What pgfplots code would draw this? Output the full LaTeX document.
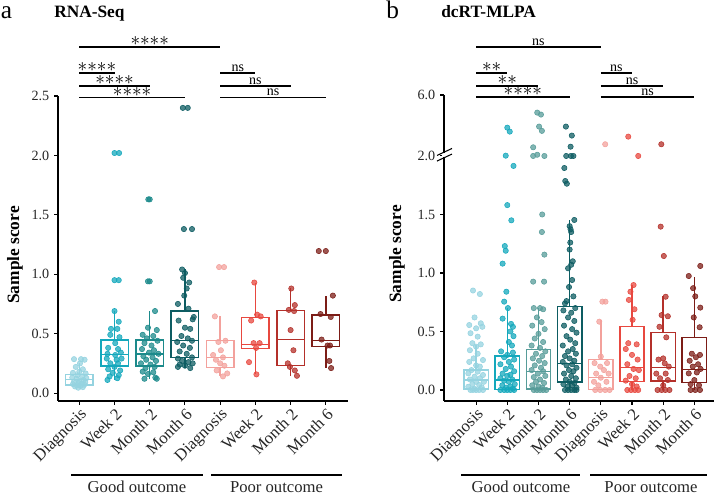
\documentclass[border=0pt]{standalone}
\usepackage{fontspec}
\setmainfont{Liberation Serif}
\usepackage{pgfplots}
\usepackage{pgfplotstable}
\usepgfplotslibrary{statistics}
\pgfplotsset{compat=1.18}

\definecolor{gA}{HTML}{95D3E0}
\definecolor{gB}{HTML}{14A8BC}
\definecolor{gC}{HTML}{1C8A8B}
\definecolor{gCr}{HTML}{579C99}
\definecolor{gD}{HTML}{0D5C62}
\definecolor{pA}{HTML}{F3A19C}
\definecolor{pB}{HTML}{E8483F}
\definecolor{pC}{HTML}{B4302A}
\definecolor{pD}{HTML}{7C1D17}

\pgfplotsset{
 pts/.style={only marks, mark=*, mark size=2pt, color=#1, mark options={fill=#1, draw=none, fill opacity=0.75}},
 bx/.style={draw=#1, line width=1.1pt, solid, mark=none, boxplot/draw direction=y},
 myaxis/.style={
  scale only axis, anchor=south west, clip=false,
  axis x line*=bottom, axis y line*=left,
  axis line style={line width=1.1pt, black},
  tick align=outside, major tick length=3pt,
  every tick/.style={black, line width=0.8pt},
  xtick={0,...,7},
  xticklabels={Diagnosis,Week 2,Month 2,Month 6,Diagnosis,Week 2,Month 2,Month 6},
  xticklabel style={rotate=45, anchor=north east, font=\fontsize{12.5}{14}\selectfont, text=black!85, inner sep=1pt},
  yticklabel style={font=\fontsize{10.6}{12}\selectfont, text=black!85},
 },
}
\tikzset{
 sigast/.style={font=\fontsize{14}{14}\selectfont, inner sep=0pt, anchor=south, yshift=0.3pt},
 signs/.style={font=\fontsize{10.5}{11}\selectfont, inner sep=0pt, anchor=south, yshift=0.6pt},
}
\newcommand{\four}{${\ast}{\ast}{\ast}{\ast}$}
\newcommand{\two}{${\ast}{\ast}$}

% ---------------- RNA-Seq (left) ----------------
\pgfplotstableread[row sep=\\]{dx v\\
-0.15 0.285\\ 0.05 0.285\\ 0.15 0.28\\ 0.02 0.25\\ -0.10 0.22\\ 0.10 0.20\\ 0.00 0.18\\ -0.18 0.17\\ 0.18 0.165\\ -0.05 0.15\\ 0.08 0.14\\ -0.20 0.13\\ 0.20 0.125\\ -0.08 0.12\\ 0.12 0.11\\ 0.00 0.10\\ -0.15 0.095\\ 0.17 0.09\\ -0.02 0.085\\ 0.07 0.08\\ -0.18 0.075\\ 0.14 0.07\\ -0.07 0.065\\ 0.03 0.06\\ -0.12 0.055\\ 0.10 0.05\\ -0.03 0.045\\
}\LgA
\pgfplotstableread[row sep=\\]{dx v\\
0 2.02\\ 0.13 2.02\\ 0 0.95\\ 0.12 0.95\\ 0.0 0.69\\ 0.12 0.60\\ -0.10 0.54\\ 0.08 0.54\\ -0.12 0.49\\ 0.14 0.47\\ 0.02 0.42\\ -0.18 0.38\\ 0.10 0.37\\ -0.20 0.33\\ 0.02 0.32\\ 0.18 0.34\\ -0.22 0.29\\ 0.06 0.28\\ 0.20 0.29\\ -0.12 0.25\\ 0.10 0.25\\ 0.0 0.22\\ -0.18 0.20\\ 0.16 0.19\\ -0.05 0.17\\ 0.12 0.15\\ -0.14 0.14\\ -0.20 0.11\\ 0.08 0.125\\
}\LgB
\pgfplotstableread[row sep=\\]{dx v\\
0 1.63\\ -0.04 1.63\\ 0 0.94\\ -0.05 0.94\\ 0.15 0.69\\ -0.05 0.55\\ 0.20 0.53\\ -0.20 0.49\\ 0.10 0.48\\ -0.08 0.46\\ 0.22 0.44\\ -0.15 0.42\\ 0.05 0.40\\ -0.22 0.37\\ 0.12 0.36\\ -0.02 0.34\\ 0.25 0.33\\ -0.18 0.31\\ 0.08 0.30\\ -0.10 0.28\\ 0.18 0.27\\ -0.25 0.25\\ 0.02 0.24\\ 0.14 0.22\\ -0.12 0.21\\ -0.20 0.18\\ 0.10 0.175\\ -0.05 0.16\\ 0.16 0.13\\ -0.15 0.12\\ 0.20 0.12\\
}\LgC
\pgfplotstableread[row sep=\\]{dx v\\
-0.06 2.40\\ 0.08 2.40\\ -0.03 1.38\\ 0.20 1.38\\ -0.08 1.04\\ 0.0 1.01\\ -0.05 0.97\\ 0.12 0.93\\ 0.05 0.88\\ -0.02 0.82\\ -0.20 0.75\\ 0.10 0.71\\ 0.25 0.64\\ -0.18 0.61\\ 0.22 0.62\\ 0.0 0.55\\ 0.15 0.54\\ -0.10 0.48\\ 0.08 0.46\\ -0.22 0.43\\ 0.20 0.44\\ -0.05 0.40\\ 0.14 0.38\\ -0.15 0.35\\ 0.05 0.33\\ 0.20 0.30\\ -0.20 0.29\\ -0.08 0.27\\ 0.10 0.26\\ 0.22 0.25\\ -0.15 0.24\\ 0.0 0.23\\ -0.20 0.22\\ 0.15 0.21\\
}\LgD
\pgfplotstableread[row sep=\\]{dx v\\
-0.03 1.06\\ 0.11 1.06\\ -0.15 0.645\\ 0.15 0.44\\ -0.05 0.43\\ 0.02 0.36\\ -0.20 0.32\\ 0.08 0.30\\ -0.12 0.28\\ 0.0 0.25\\ 0.12 0.23\\ -0.10 0.19\\ 0.20 0.165\\ 0.08 0.14\\
}\LpA
\pgfplotstableread[row sep=\\]{dx v\\
-0.03 0.93\\ 0.05 0.66\\ 0.15 0.645\\ -0.12 0.61\\ -0.05 0.42\\ 0.12 0.42\\ 0.02 0.38\\ -0.18 0.26\\ 0.03 0.157\\
}\LpB
\pgfplotstableread[row sep=\\]{dx v\\
0.02 0.88\\ 0.12 0.74\\ -0.05 0.70\\ 0.10 0.69\\ 0.0 0.53\\ 0.08 0.36\\ -0.08 0.25\\ -0.02 0.22\\ 0.12 0.19\\ 0.18 0.145\\
}\LpC
\pgfplotstableread[row sep=\\]{dx v\\
-0.20 1.195\\ 0 1.195\\ 0.20 0.82\\ -0.15 0.665\\ 0.14 0.64\\ -0.12 0.45\\ 0.05 0.40\\ 0.12 0.40\\ 0.10 0.27\\ 0.15 0.21\\
}\LpD

% ---------------- dcRT-MLPA (right) ----------------
\pgfplotstableread[row sep=\\]{dx v\\
-0.10 0.85\\ 0.12 0.82\\ -0.05 0.62\\ 0.15 0.57\\ -0.22 0.555\\ 0.20 0.54\\ 0.0 0.527\\ -0.18 0.485\\ 0.05 0.456\\ -0.12 0.40\\ 0.15 0.39\\ 0.0 0.37\\ -0.20 0.34\\ 0.05 0.31\\ -0.08 0.27\\ 0.22 0.256\\ -0.22 0.24\\ 0.0 0.21\\ 0.12 0.20\\ -0.15 0.17\\ 0.05 0.157\\ -0.25 0.142\\ 0.22 0.128\\ -0.05 0.114\\ 0.12 0.10\\ -0.20 0.09\\ 0.0 0.07\\ 0.25 0.07\\ -0.12 0.05\\ 0.10 0.043\\ -0.25 0.028\\ 0.18 0.023\\ -0.05 0.01\\ -0.18 0.0\\ 0.0 0.0\\ 0.10 0.0\\ 0.22 0.0\\ -0.10 0.0\\
}\RgA
\pgfplotstableread[row sep=\\]{dx v\\
0.0 3.86\\ 0.08 3.60\\ -0.05 2.02\\ 0.20 1.915\\ 0.0 1.58\\ 0.13 1.45\\ -0.08 1.23\\ -0.05 1.19\\ -0.15 1.08\\ -0.03 0.84\\ -0.10 0.755\\ 0.02 0.70\\ -0.15 0.61\\ 0.12 0.565\\ 0.18 0.54\\ 0.10 0.50\\ 0.20 0.46\\ 0.05 0.41\\ 0.15 0.38\\ -0.20 0.33\\ 0.18 0.32\\ 0.0 0.30\\ -0.10 0.28\\ 0.22 0.26\\ 0.05 0.24\\ -0.22 0.22\\ 0.12 0.20\\ -0.05 0.18\\ 0.22 0.16\\ -0.15 0.14\\ 0.10 0.13\\ 0.0 0.12\\ -0.22 0.10\\ 0.16 0.09\\ -0.10 0.08\\ 0.05 0.07\\ 0.24 0.05\\ -0.16 0.04\\ 0.10 0.03\\ -0.04 0.02\\ 0.18 0.01\\ -0.22 0.0\\ -0.10 0.0\\ 0.0 0.0\\ 0.10 0.0\\ 0.22 0.0\\
}\RgB
\pgfplotstableread[row sep=\\]{dx v\\
-0.04 4.85\\ 0.08 4.72\\ 0.02 3.93\\ 0.11 3.65\\ -0.17 2.57\\ -0.17 2.0\\ -0.04 2.08\\ 0.19 2.0\\ 0.12 1.50\\ 0.11 1.35\\ 0.19 1.157\\ -0.17 0.926\\ 0.18 0.926\\ -0.15 0.70\\ 0.05 0.70\\ 0.15 0.69\\ -0.05 0.62\\ 0.10 0.58\\ -0.20 0.55\\ 0.20 0.52\\ 0.0 0.48\\ -0.12 0.44\\ 0.15 0.41\\ -0.22 0.38\\ 0.05 0.36\\ 0.22 0.33\\ -0.08 0.31\\ 0.12 0.29\\ -0.18 0.27\\ 0.02 0.25\\ 0.20 0.23\\ -0.12 0.21\\ 0.08 0.19\\ -0.22 0.17\\ 0.15 0.16\\ -0.02 0.14\\ 0.22 0.12\\ -0.15 0.11\\ 0.05 0.09\\ -0.08 0.07\\ 0.18 0.06\\ -0.20 0.04\\ 0.0 0.03\\ 0.12 0.02\\ -0.15 0.0\\ -0.05 0.0\\ 0.05 0.0\\ 0.15 0.0\\ 0.25 0.0\\
}\RgC
\pgfplotstableread[row sep=\\]{dx v\\
-0.12 3.93\\ 0.07 3.34\\ 0.03 2.61\\ -0.11 2.0\\ 0.04 2.0\\ 0.12 2.0\\ -0.17 1.897\\ -0.14 1.786\\ -0.09 1.763\\ 0.15 1.453\\ 0.0 1.40\\ 0.03 1.373\\ 0.05 1.35\\ 0.02 1.26\\ 0.00 1.20\\ 0.10 1.10\\ 0.05 1.07\\ -0.05 1.04\\ 0.08 0.94\\ -0.02 0.88\\ 0.12 0.80\\ -0.10 0.76\\ -0.15 0.74\\ 0.18 0.70\\ -0.20 0.68\\ 0.05 0.66\\ -0.05 0.62\\ 0.15 0.59\\ -0.18 0.55\\ 0.08 0.52\\ 0.22 0.49\\ -0.10 0.46\\ 0.02 0.43\\ 0.18 0.40\\ -0.22 0.38\\ 0.10 0.35\\ -0.05 0.33\\ 0.20 0.31\\ -0.15 0.29\\ 0.0 0.27\\ 0.15 0.25\\ -0.22 0.24\\ 0.08 0.22\\ -0.10 0.21\\ 0.22 0.19\\ -0.02 0.17\\ 0.12 0.16\\ -0.18 0.14\\ 0.05 0.12\\ 0.20 0.10\\ -0.12 0.09\\ 0.0 0.07\\ 0.15 0.06\\ -0.20 0.05\\ 0.08 0.04\\ -0.05 0.03\\ 0.22 0.02\\ -0.15 0.0\\ -0.05 0.0\\ 0.05 0.0\\ 0.15 0.0\\ 0.22 0.0\\
}\RgD
\pgfplotstableread[row sep=\\]{dx v\\
0.14 2.77\\ 0.05 0.755\\ 0.15 0.755\\ -0.05 0.584\\ 0.0 0.285\\ -0.20 0.23\\ 0.20 0.23\\ -0.02 0.20\\ 0.10 0.17\\ -0.15 0.14\\ 0.25 0.14\\ 0.0 0.105\\ -0.22 0.07\\ 0.18 0.07\\ -0.08 0.04\\ -0.18 0.0\\ -0.02 0.0\\ 0.14 0.0\\ 0.28 0.0\\
}\RpA
\pgfplotstableread[row sep=\\]{dx v\\
-0.12 3.27\\ 0.20 2.0\\ 0.05 0.897\\ -0.05 0.84\\ -0.10 0.77\\ 0.08 0.69\\ 0.02 0.60\\ -0.12 0.40\\ 0.15 0.39\\ -0.20 0.35\\ 0.0 0.30\\ 0.18 0.26\\ -0.15 0.22\\ 0.05 0.18\\ 0.22 0.17\\ -0.08 0.12\\ 0.12 0.10\\ -0.20 0.08\\ 0.0 0.05\\ 0.15 0.03\\ -0.15 0.0\\ -0.03 0.0\\ 0.09 0.0\\ 0.20 0.0\\
}\RpB
\pgfplotstableread[row sep=\\]{dx v\\
-0.06 2.77\\ -0.08 1.396\\ 0.02 1.145\\ 0.08 0.797\\ -0.05 0.64\\ 0.15 0.63\\ -0.12 0.54\\ 0.10 0.45\\ 0.0 0.27\\ -0.15 0.26\\ 0.05 0.228\\ 0.18 0.20\\ -0.22 0.14\\ 0.08 0.14\\ -0.10 0.10\\ 0.15 0.085\\ 0.0 0.04\\ -0.18 0.0\\ -0.05 0.0\\ 0.07 0.0\\ 0.20 0.0\\
}\RpC
\pgfplotstableread[row sep=\\]{dx v\\
0.19 1.06\\ -0.18 0.974\\ -0.04 0.87\\ 0.03 0.80\\ 0.19 0.704\\ -0.02 0.62\\ 0.17 0.536\\ -0.08 0.31\\ 0.18 0.30\\ 0.05 0.28\\ -0.15 0.25\\ 0.12 0.22\\ -0.05 0.20\\ 0.20 0.18\\ -0.18 0.142\\ 0.08 0.15\\ 0.0 0.085\\ -0.12 0.05\\ 0.15 0.04\\ -0.12 0.0\\ 0.03 0.0\\ 0.18 0.0\\
}\RpD

\begin{document}
\begin{tikzpicture}
\useasboundingbox (0pt,0pt) rectangle (535.5pt,371.25pt);

% ===== left panel =====
\begin{axis}[myaxis, at={(43.5pt,70.5pt)}, width=217.5pt, height=228.75pt,
  xmin=-0.605, xmax=7.63, ymin=-0.067, ymax=2.5,
  ytick={0,0.5,1,1.5,2,2.5}, yticklabels={0.0,0.5,1.0,1.5,2.0,2.5}]
\addplot[bx=gA, boxplot prepared={draw position=0, lower whisker=0.045, lower quartile=0.067, median=0.115, upper quartile=0.157, upper whisker=0.25, box extend=0.78, whisker extend=0}] coordinates {};
\addplot[bx=gB, boxplot prepared={draw position=1, lower whisker=0.11, lower quartile=0.227, median=0.326, upper quartile=0.446, upper whisker=0.69, box extend=0.78, whisker extend=0}] coordinates {};
\addplot[bx=gC, boxplot prepared={draw position=2, lower whisker=0.12, lower quartile=0.227, median=0.33, upper quartile=0.446, upper whisker=0.69, box extend=0.78, whisker extend=0}] coordinates {};
\addplot[bx=gD, boxplot prepared={draw position=3, lower whisker=0.21, lower quartile=0.30, median=0.444, upper quartile=0.69, upper whisker=1.04, box extend=0.78, whisker extend=0}] coordinates {};
\addplot[bx=pA, boxplot prepared={draw position=4, lower whisker=0.14, lower quartile=0.213, median=0.30, upper quartile=0.44, upper whisker=0.645, box extend=0.78, whisker extend=0}] coordinates {};
\addplot[bx=pB, boxplot prepared={draw position=5, lower whisker=0.157, lower quartile=0.376, median=0.41, upper quartile=0.634, upper whisker=0.93, box extend=0.78, whisker extend=0}] coordinates {};
\addplot[bx=pC, boxplot prepared={draw position=6, lower whisker=0.145, lower quartile=0.23, median=0.452, upper quartile=0.693, upper whisker=0.88, box extend=0.78, whisker extend=0}] coordinates {};
\addplot[bx=pD, boxplot prepared={draw position=7, lower whisker=0.21, lower quartile=0.39, median=0.44, upper quartile=0.657, upper whisker=0.82, box extend=0.78, whisker extend=0}] coordinates {};
\addplot[pts=gA] table[x expr=\thisrow{dx}+0, y=v]{\LgA};
\addplot[pts=gB] table[x expr=\thisrow{dx}+1, y=v]{\LgB};
\addplot[pts=gC] table[x expr=\thisrow{dx}+2, y=v]{\LgC};
\addplot[pts=gD] table[x expr=\thisrow{dx}+3, y=v]{\LgD};
\addplot[pts=pA] table[x expr=\thisrow{dx}+4, y=v]{\LpA};
\addplot[pts=pB] table[x expr=\thisrow{dx}+5, y=v]{\LpB};
\addplot[pts=pC] table[x expr=\thisrow{dx}+6, y=v]{\LpC};
\addplot[pts=pD] table[x expr=\thisrow{dx}+7, y=v]{\LpD};
% significance
\draw[line width=1pt] (axis cs:0,2.912) -- node[sigast]{\four} (axis cs:4,2.912);
\draw[line width=1pt] (axis cs:0,2.694) -- node[sigast]{\four} (axis cs:1,2.694);
\draw[line width=1pt] (axis cs:0,2.584) -- node[sigast]{\four} (axis cs:2,2.584);
\draw[line width=1pt] (axis cs:0,2.49) -- node[sigast]{\four} (axis cs:3,2.49);
\draw[line width=1pt] (axis cs:4,2.694) -- node[signs]{ns} (axis cs:5,2.694);
\draw[line width=1pt] (axis cs:4,2.584) -- node[signs]{ns} (axis cs:6,2.584);
\draw[line width=1pt] (axis cs:4,2.49) -- node[signs]{ns} (axis cs:7,2.49);
\end{axis}

% ===== right panel =====
\begin{axis}[myaxis, at={(333pt,70.5pt)}, width=202.5pt, height=229.5pt,
  xmin=-1.03, xmax=7.63, ymin=-0.094, ymax=2.521,
  ytick={0,0.5,1,1.5,2,2.521}, yticklabels={0.0,0.5,1.0,1.5,2.0,6.0}]
\addplot[bx=gA, boxplot prepared={draw position=0, lower whisker=0, lower quartile=0.01, median=0.085, upper quartile=0.171, upper whisker=0.385, box extend=0.78, whisker extend=0}] coordinates {};
\addplot[bx=gB, boxplot prepared={draw position=1, lower whisker=0, lower quartile=0.006, median=0.085, upper quartile=0.29, upper whisker=0.70, box extend=0.78, whisker extend=0}] coordinates {};
\addplot[bx=gCr, boxplot prepared={draw position=2, lower whisker=0, lower quartile=0.01, median=0.157, upper quartile=0.348, upper whisker=0.70, box extend=0.78, whisker extend=0}] coordinates {};
\addplot[bx=gD, boxplot prepared={draw position=3, lower whisker=0, lower quartile=0.068, median=0.228, upper quartile=0.712, upper whisker=1.45, box extend=0.78, whisker extend=0}] coordinates {};
\addplot[bx=pA, boxplot prepared={draw position=4, lower whisker=0, lower quartile=0.006, median=0.105, upper quartile=0.262, upper whisker=0.60, box extend=0.78, whisker extend=0}] coordinates {};
\addplot[bx=pB, boxplot prepared={draw position=5, lower whisker=0, lower quartile=0.071, median=0.19, upper quartile=0.541, upper whisker=0.897, box extend=0.78, whisker extend=0}] coordinates {};
\addplot[bx=pC, boxplot prepared={draw position=6, lower whisker=0, lower quartile=0.077, median=0.19, upper quartile=0.49, upper whisker=0.80, box extend=0.78, whisker extend=0}] coordinates {};
\addplot[bx=pD, boxplot prepared={draw position=7, lower whisker=0, lower quartile=0.066, median=0.177, upper quartile=0.447, upper whisker=0.968, box extend=0.78, whisker extend=0}] coordinates {};
\addplot[pts=gA] table[x expr=\thisrow{dx}+0, y expr={\thisrow{v}>2 ? 2+(\thisrow{v}-2)*0.13 : \thisrow{v}}]{\RgA};
\addplot[pts=gB] table[x expr=\thisrow{dx}+1, y expr={\thisrow{v}>2 ? 2+(\thisrow{v}-2)*0.13 : \thisrow{v}}]{\RgB};
\addplot[pts=gCr] table[x expr=\thisrow{dx}+2, y expr={\thisrow{v}>2 ? 2+(\thisrow{v}-2)*0.13 : \thisrow{v}}]{\RgC};
\addplot[pts=gD] table[x expr=\thisrow{dx}+3, y expr={\thisrow{v}>2 ? 2+(\thisrow{v}-2)*0.13 : \thisrow{v}}]{\RgD};
\addplot[pts=pA] table[x expr=\thisrow{dx}+4, y expr={\thisrow{v}>2 ? 2+(\thisrow{v}-2)*0.13 : \thisrow{v}}]{\RpA};
\addplot[pts=pB] table[x expr=\thisrow{dx}+5, y expr={\thisrow{v}>2 ? 2+(\thisrow{v}-2)*0.13 : \thisrow{v}}]{\RpB};
\addplot[pts=pC] table[x expr=\thisrow{dx}+6, y expr={\thisrow{v}>2 ? 2+(\thisrow{v}-2)*0.13 : \thisrow{v}}]{\RpC};
\addplot[pts=pD] table[x expr=\thisrow{dx}+7, y expr={\thisrow{v}>2 ? 2+(\thisrow{v}-2)*0.13 : \thisrow{v}}]{\RpD};
% significance
\draw[line width=1pt] (axis cs:0,2.932) -- node[signs]{ns} (axis cs:4,2.932);
\draw[line width=1pt] (axis cs:0,2.709) -- node[sigast]{\two} (axis cs:1,2.709);
\draw[line width=1pt] (axis cs:0,2.598) -- node[sigast]{\two} (axis cs:2,2.598);
\draw[line width=1pt] (axis cs:0,2.504) -- node[sigast]{\four} (axis cs:3,2.504);
\draw[line width=1pt] (axis cs:4,2.709) -- node[signs]{ns} (axis cs:5,2.709);
\draw[line width=1pt] (axis cs:4,2.598) -- node[signs]{ns} (axis cs:6,2.598);
\draw[line width=1pt] (axis cs:4,2.504) -- node[signs]{ns} (axis cs:7,2.504);
\end{axis}

% axis break marker on right y axis
\fill[white] (331.6pt,253.6pt) rectangle (334.4pt,256.4pt);
\draw[line width=0.8pt] (327.75pt,254.65pt) -- (339pt,259.9pt);
\draw[line width=0.8pt] (327.75pt,250.45pt) -- (339pt,255.7pt);

% group brackets
\draw[line width=1.1pt] (53.6pt,15pt) -- (152.25pt,15pt);
\draw[line width=1.1pt] (158.25pt,15pt) -- (256.5pt,15pt);
\draw[line width=1.1pt] (345.75pt,15pt) -- (435pt,15pt);
\draw[line width=1.1pt] (442.5pt,15pt) -- (530.25pt,15pt);
\node[anchor=base, inner sep=0pt, font=\fontsize{12.5}{14}\selectfont, text=black!85] at (102.75pt,1.6pt) {Good outcome};
\node[anchor=base, inner sep=0pt, font=\fontsize{12.5}{14}\selectfont, text=black!85] at (207.4pt,1.6pt) {Poor outcome};
\node[anchor=base, inner sep=0pt, font=\fontsize{12.5}{14}\selectfont, text=black!85] at (390.75pt,1.6pt) {Good outcome};
\node[anchor=base, inner sep=0pt, font=\fontsize{12.5}{14}\selectfont, text=black!85] at (488.25pt,1.6pt) {Poor outcome};

% y labels
\node[rotate=90, inner sep=0pt, font=\fontsize{13}{14}\selectfont\bfseries] at (11.25pt,180pt) {Sample score};
\node[rotate=90, inner sep=0pt, font=\fontsize{13}{14}\selectfont\bfseries] at (297.75pt,180.75pt) {Sample score};

% titles and panel letters
\node[anchor=base west, inner sep=0pt, font=\fontsize{13}{14}\selectfont\bfseries] at (40.5pt,357.75pt) {RNA-Seq};
\node[anchor=base west, inner sep=0pt, font=\fontsize{13}{14}\selectfont\bfseries] at (330.75pt,357.75pt) {dcRT-MLPA};
\node[anchor=base west, inner sep=0pt, font=\fontsize{19}{22}\selectfont] at (0.5pt,357.5pt) {a};
\node[anchor=base west, inner sep=0pt, font=\fontsize{19}{22}\selectfont] at (289.5pt,357.5pt) {b};
\end{tikzpicture}
\end{document}
